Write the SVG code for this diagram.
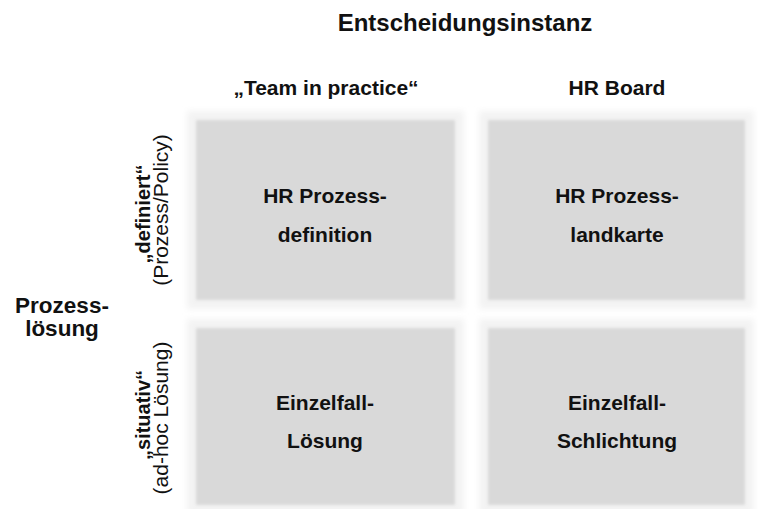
<svg xmlns="http://www.w3.org/2000/svg" width="758" height="509" viewBox="0 0 758 509">
  <defs>
    <filter id="halo" x="-10%" y="-10%" width="120%" height="120%">
      <feGaussianBlur stdDeviation="3"/>
    </filter>
    <filter id="soft" x="-5%" y="-5%" width="110%" height="110%">
      <feGaussianBlur stdDeviation="1.8"/>
    </filter>
  </defs>
  <style>
    text { font-family: "Liberation Sans", Arial, sans-serif; fill: #111; }
    .title { font-size: 24px; font-weight: bold; }
    .hd { font-size: 21px; font-weight: bold; }
    .axis { font-size: 22.5px; font-weight: bold; text-anchor: middle; }
    .lbl { font-size: 21px; font-weight: bold; text-anchor: middle; }
    .rowb { font-size: 20px; font-weight: bold; text-anchor: middle; }
    .side { font-size: 21px; text-anchor: middle; }
    .halo { fill: #f3f3f3; filter: url(#halo); }
    .cell { fill: #d9d9d9; filter: url(#soft); }
  </style>
  <rect width="758" height="509" fill="#ffffff"/>

  <!-- axis titles -->
  <text class="title" x="465" y="31" text-anchor="middle">Entscheidungsinstanz</text>
  <text class="hd" x="326" y="95" text-anchor="middle">„Team in practice“</text>
  <text class="hd" x="617" y="95" text-anchor="middle">HR Board</text>

  <g id="axis-prozessloesung">
    <text class="axis" x="62" y="313">Prozess-</text>
    <text class="axis" x="62" y="336">lösung</text>
  </g>

  <!-- row labels, rotated to read bottom-up -->
  <g id="row-definiert" transform="rotate(-90)">
    <text class="rowb" x="-214" y="150">„definiert“</text>
    <text class="side" x="-210" y="168">(Prozess/Policy)</text>
  </g>
  <g id="row-situativ" transform="rotate(-90)">
    <text class="rowb" x="-415" y="150">„situativ“</text>
    <text class="side" x="-418" y="168">(ad-hoc Lösung)</text>
  </g>

  <!-- matrix cells -->
  <g id="cell-hr-prozessdefinition">
    <rect class="halo" x="187" y="111" width="277" height="198"/>
    <rect class="cell" x="196" y="120" width="259" height="180"/>
    <text class="lbl" x="325" y="203">HR Prozess-</text>
    <text class="lbl" x="325" y="242">definition</text>
  </g>
  <g id="cell-hr-prozesslandkarte">
    <rect class="halo" x="479" y="111" width="275" height="198"/>
    <rect class="cell" x="488" y="120" width="257" height="180"/>
    <text class="lbl" x="617" y="203">HR Prozess-</text>
    <text class="lbl" x="617" y="242">landkarte</text>
  </g>
  <g id="cell-einzelfall-loesung">
    <rect class="halo" x="187" y="319" width="277" height="195"/>
    <rect class="cell" x="196" y="328" width="259" height="177"/>
    <text class="lbl" x="325" y="410">Einzelfall-</text>
    <text class="lbl" x="325" y="448">Lösung</text>
  </g>
  <g id="cell-einzelfall-schlichtung">
    <rect class="halo" x="479" y="319" width="275" height="195"/>
    <rect class="cell" x="488" y="328" width="257" height="177"/>
    <text class="lbl" x="617" y="410">Einzelfall-</text>
    <text class="lbl" x="617" y="448">Schlichtung</text>
  </g>

  <g id="connectors"/>
</svg>
